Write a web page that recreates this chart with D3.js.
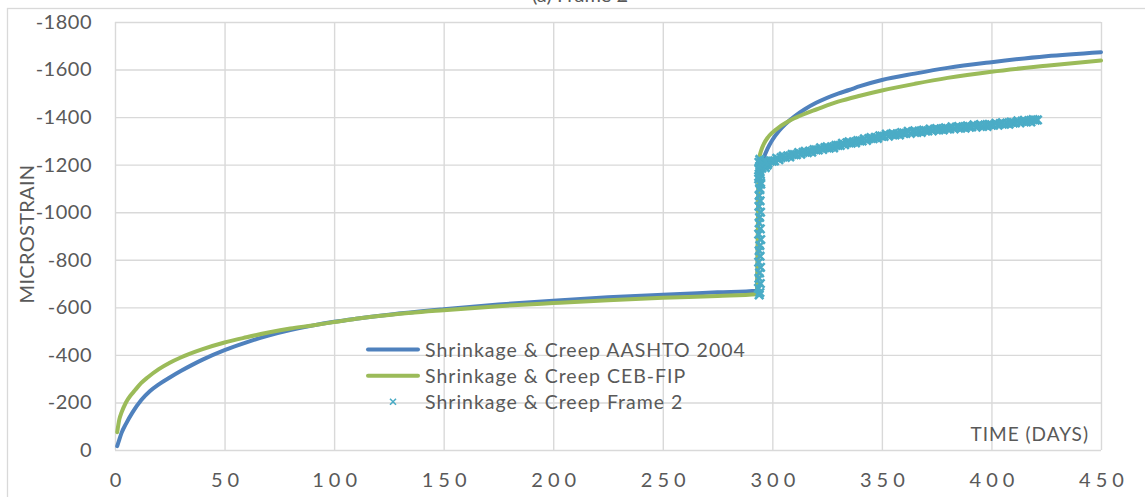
<!DOCTYPE html>
<html>
<head>
<meta charset="utf-8">
<script src="https://cdn.jsdelivr.net/npm/d3@7"></script>
<style>
  body { margin: 0; background: #fff; }
  svg { display: block; }
  text { font-family: Lato, "Open Sans", sans-serif; fill: #595959; }
</style>
</head>
<body>
<svg id="chart" width="1145" height="497"></svg>
<script>
// ---- Series data (days, microstrain) ----
const aashtoDays = [1, 2, 3, 5, 8, 12, 16, 20, 25, 30, 35, 40, 50, 60, 70, 80, 90, 100, 110, 125, 150, 175, 200, 225, 250, 275, 293,
  293.8, 295, 296, 298, 300, 303, 306, 310, 315, 320, 330, 335, 340, 350, 365, 380, 400, 425, 450];
const aashtoVals = [-16, -45, -72, -110, -158, -210, -248, -276, -305, -332, -357, -380, -420, -453, -481, -504, -523, -539, -552, -569, -592, -612, -628, -642, -653, -663, -670,
  -1116, -1191, -1225, -1271, -1304, -1342, -1371, -1402, -1434, -1460, -1499, -1514, -1530, -1556, -1583, -1607, -1631, -1656, -1673];

const cebDays = [1, 2, 3, 5, 7, 9, 12, 15, 20, 25, 30, 40, 50, 60, 70, 80, 90, 100, 110, 125, 150, 175, 200, 225, 250, 275, 293,
  293.8, 295, 296, 298, 300, 303, 306, 310, 315, 320, 330, 340, 350, 365, 380, 400, 425, 450];
const cebVals = [-75, -130, -158, -200, -228, -250, -282, -306, -340, -367, -389, -424, -452, -474, -494, -511, -524, -538, -552, -568, -588, -605, -618, -630, -640, -648, -655,
  -1215, -1262, -1285, -1315, -1335, -1357, -1375, -1395, -1415, -1432, -1465, -1490, -1512, -1540, -1565, -1591, -1616, -1638];

// Frame 2 gauge readings: loading step at day ~294, then creep
const frameDays = [
  294.0, 294.3, 293.7, 294.5, 293.9, 294.2, 294.6, 293.8, 294.4, 294.0, 294.3, 294.7, 293.8, 294.5, 294.0, 294.2, 294.6, 293.9, 294.4, 294.0, 294.3, 294.7,
  293.8, 294.5, 294.1, 294.6, 293.9, 294.3, 294.7, 294.0, 294.4, 293.8, 294.6, 294.2,
  294.8, 295.2, 295.5, 295.8, 296.2, 296.5, 296.8, 297.3, 297.6,
  295, 296, 297, 298, 299, 300, 301, 302, 303, 304,
  305, 306, 307, 308, 309, 310, 311, 312, 313, 314,
  315, 316, 317, 318, 319, 320, 321, 322, 323, 324,
  325, 326, 327, 328, 329, 330, 331, 332, 333, 334,
  335, 336, 337, 338, 339, 340, 341, 342, 343, 344,
  345, 346, 347, 348, 349, 350, 351, 352, 353, 354,
  355, 356, 357, 358, 359, 360, 361, 362, 363, 364,
  365, 366, 367, 368, 369, 370, 371, 372, 373, 374,
  375, 376, 377, 378, 379, 380, 381, 382, 383, 384,
  385, 386, 387, 388, 389, 390, 391, 392, 393, 394,
  395, 396, 397, 398, 399, 400, 401, 402, 403, 404,
  405, 406, 407, 408, 409, 410, 411, 412, 413, 414,
  415, 416, 417, 418, 419, 420, 421];
const frameVals = [
  -652, -662, -680, -700, -722, -745, -768, -790, -815, -838, -860, -885, -908, -930, -955, -978, -1000, -1025, -1048, -1070, -1095, -1118,
  -1140, -1160, -1178, -1195, -1210, -1222, -1205, -1188, -1170, -1150, -1125, -1100,
  -1190, -1185, -1210, -1196, -1215, -1200, -1188, -1212, -1198,
  -1204, -1201, -1208, -1205, -1215, -1215, -1216, -1227, -1221, -1230,
  -1236, -1231, -1237, -1233, -1243, -1242, -1242, -1251, -1244, -1252,
  -1256, -1251, -1257, -1253, -1263, -1262, -1262, -1271, -1264, -1272,
  -1275, -1270, -1275, -1271, -1281, -1281, -1281, -1290, -1284, -1292,
  -1296, -1291, -1296, -1292, -1301, -1300, -1300, -1309, -1302, -1310,
  -1314, -1309, -1315, -1311, -1321, -1320, -1319, -1328, -1320, -1327,
  -1331, -1325, -1330, -1325, -1335, -1333, -1332, -1340, -1332, -1339,
  -1342, -1336, -1341, -1336, -1345, -1343, -1342, -1350, -1342, -1349,
  -1352, -1346, -1351, -1346, -1355, -1352, -1351, -1359, -1351, -1358,
  -1360, -1354, -1359, -1354, -1363, -1360, -1359, -1367, -1358, -1365,
  -1368, -1361, -1366, -1361, -1369, -1367, -1366, -1374, -1366, -1373,
  -1376, -1370, -1375, -1370, -1379, -1377, -1376, -1384, -1376, -1383,
  -1386, -1380, -1385, -1380, -1389, -1387, -1388];

const xTicks = [0, 50, 100, 150, 200, 250, 300, 350, 400, 450];
const yTicks = [0, -200, -400, -600, -800, -1000, -1200, -1400, -1600, -1800];

const seriesNames = ["Shrinkage & Creep AASHTO 2004", "Shrinkage & Creep CEB-FIP", "Shrinkage & Creep Frame 2"];
const colors = { aashto: "#4f81bd", ceb: "#9bbb59", frame: "#4bacc6" };

// ---- Layout ----
const svg = d3.select("#chart");
const plotLeft = 115, plotRight = 1101, plotTop = 22, plotBottom = 450;

const x = d3.scaleLinear().domain([0, 450]).range([plotLeft, plotRight]);
const y = d3.scaleLinear().domain([0, -1800]).range([plotBottom, plotTop]);

// Title (sits mostly above the top edge of the canvas)
svg.append("text")
  .attr("x", 580).attr("y", 1.5)
  .attr("text-anchor", "middle")
  .style("font-size", "20px")
  .text("(a) Frame 2");

// Chart frame
svg.append("rect")
  .attr("x", 7.5).attr("y", 8.5)
  .attr("width", 1150).attr("height", 500)
  .attr("fill", "none").attr("stroke", "#d9d9d9").attr("stroke-width", 1.3);

// Gridlines + tick labels
const gy = svg.append("g")
  .attr("transform", `translate(${plotLeft},0)`)
  .call(d3.axisLeft(y).tickValues(yTicks).tickSize(-(plotRight - plotLeft)).tickPadding(23).tickFormat(d => String(d)));
gy.select(".domain").remove();
gy.selectAll(".tick line").attr("stroke", "#d9d9d9").attr("stroke-width", 1.4);
gy.selectAll(".tick text").style("font-size", "20px").style("font-family", "Lato, sans-serif")
  .style("letter-spacing", "0.5px").attr("fill", "#595959");

const gx = svg.append("g")
  .attr("transform", `translate(0,${plotBottom})`)
  .call(d3.axisBottom(x).tickValues(xTicks).tickSize(-(plotBottom - plotTop)).tickPadding(23).tickFormat(d => String(d)));
gx.select(".domain").remove();
gx.selectAll(".tick line").attr("stroke", "#d9d9d9").attr("stroke-width", 1.4);
gx.selectAll(".tick text")
  .style("font-size", "20px").style("font-family", "Lato, sans-serif").style("letter-spacing", "5px")
  .attr("dx", 2.5).attr("fill", "#595959");

// Axis titles
svg.append("text")
  .attr("transform", "translate(34,234) rotate(-90)")
  .attr("text-anchor", "middle")
  .style("font-size", "20px")
  .style("letter-spacing", "0.3px")
  .text("MICROSTRAIN");

svg.append("text")
  .attr("x", 1089).attr("y", 441)
  .attr("text-anchor", "end")
  .style("font-size", "19px")
  .style("letter-spacing", "1px")
  .text("TIME (DAYS)");

// ---- Series ----
const toPts = (days, vals) => days.map((d, i) => ({ day: d, val: vals[i] }));
const line = d3.line().x(d => x(d.day)).y(d => y(d.val)).curve(d3.curveMonotoneX);

svg.append("path")
  .datum(toPts(aashtoDays, aashtoVals))
  .attr("d", line)
  .attr("fill", "none").attr("stroke", colors.aashto)
  .attr("stroke-width", 4).attr("stroke-linecap", "round");

svg.append("path")
  .datum(toPts(cebDays, cebVals))
  .attr("d", line)
  .attr("fill", "none").attr("stroke", colors.ceb)
  .attr("stroke-width", 4).attr("stroke-linecap", "round");

const xMark = "M-4.2,-4.2L4.2,4.2M-4.2,4.2L4.2,-4.2";
svg.append("g").selectAll("path")
  .data(toPts(frameDays, frameVals))
  .join("path")
  .attr("transform", d => `translate(${x(d.day)},${y(d.val)})`)
  .attr("d", xMark)
  .attr("fill", "none").attr("stroke", colors.frame).attr("stroke-width", 2.6);

// ---- Legend ----
const lg = svg.append("g");
const rows = [
  { name: seriesNames[0], color: colors.aashto, kind: "line", y: 349.5 },
  { name: seriesNames[1], color: colors.ceb, kind: "line", y: 375.7 },
  { name: seriesNames[2], color: colors.frame, kind: "mark", y: 401.7 }
];
rows.forEach(r => {
  if (r.kind === "line") {
    lg.append("line").attr("x1", 368).attr("x2", 418).attr("y1", r.y).attr("y2", r.y)
      .attr("stroke", r.color).attr("stroke-width", 4).attr("stroke-linecap", "round");
  } else {
    lg.append("path").attr("transform", `translate(393,${r.y})`).attr("d", "M-3,-3L3,3M-3,3L3,-3")
      .attr("fill", "none").attr("stroke", r.color).attr("stroke-width", 1.6);
  }
  lg.append("text").attr("x", 425).attr("y", r.y + 7)
    .style("font-size", "19.5px").style("letter-spacing", "1px").text(r.name);
});
</script>
</body>
</html>
